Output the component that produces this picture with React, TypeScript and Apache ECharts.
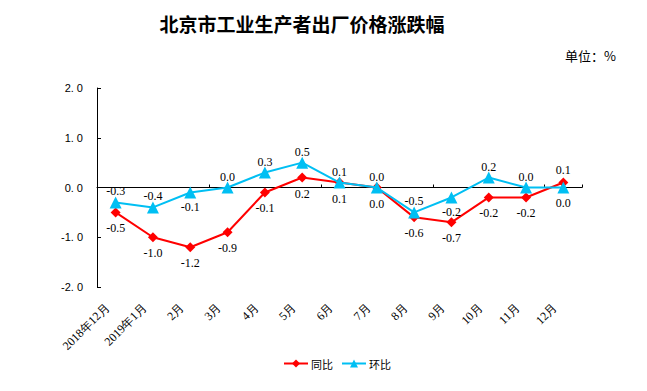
import React, { useEffect, useRef } from "react";
import * as echarts from "echarts";

const categories = [
  "2018年12月", "2019年1月", "2月", "3月", "4月", "5月", "6月",
  "7月", "8月", "9月", "10月", "11月", "12月",
];
const tongbi = [-0.5, -1.0, -1.2, -0.9, -0.1, 0.2, 0.1, 0.0, -0.6, -0.7, -0.2, -0.2, 0.1];
const huanbi = [-0.3, -0.4, -0.1, 0.0, 0.3, 0.5, 0.1, 0.0, -0.5, -0.2, 0.2, 0.0, 0.0];
const yTicks = [-2, -1, 0, 1, 2];

// indices whose labels sit on the opposite side
const tongbiAboveIdx = [12];
const huanbiBelowIdx = [2, 9, 12];

const RED = "#FF0000";
const BLUE = "#00BFF3";

export default function App() {
  const ref = useRef<HTMLDivElement>(null);
  useEffect(() => {
    if (!ref.current) return;
    const chart = echarts.init(ref.current, undefined, { renderer: "svg" });
    const labelFont = { fontFamily: "Liberation Serif", fontSize: 12, color: "#000" };
    const redData = tongbi.map((v, i) => {
      const above = tongbiAboveIdx.includes(i);
      return {
        value: v,
        label: { position: above ? "top" : "bottom", distance: above ? 2 : 5 },
      };
    });
    const blueData = huanbi.map((v, i) => {
      const below = huanbiBelowIdx.includes(i);
      return {
        value: v,
        label: { position: below ? "bottom" : "top", distance: below ? 3 : -1 },
      };
    });
    chart.setOption({
      animation: false,
      graphic: [
        {
          type: "text",
          x: 302,
          y: 23,
          style: {
            text: "北京市工业生产者出厂价格涨跌幅",
            fontFamily: "Noto Sans CJK SC",
            fontWeight: "bold",
            fontSize: 19,
            fill: "#000",
            textAlign: "center",
            textVerticalAlign: "middle",
          },
        },
        {
          type: "text",
          x: 565,
          y: 55,
          style: {
            text: "单位：%",
            fontFamily: "Noto Sans CJK SC",
            fontSize: 13,
            fill: "#000",
            textAlign: "left",
            textVerticalAlign: "middle",
          },
        },
      ],
      legend: {
        top: 358,
        left: 283,
        itemWidth: 24,
        itemHeight: 10,
        itemGap: 8,
        padding: 0,
        textStyle: { fontFamily: "Noto Sans CJK SC", fontSize: 11, color: "#000", padding: [0, 0, 0, -2] },
        data: ["同比", "环比"],
      },
      grid: { left: 97, right: 65, top: 88, bottom: 104 },
      xAxis: [
        {
          type: "category",
          data: categories,
          boundaryGap: true,
          axisLine: { onZero: true, lineStyle: { color: "#000", width: 1 } },
          axisTick: { show: true, inside: true, length: 3, lineStyle: { color: "#000" } },
          axisLabel: { show: false },
          splitLine: { show: false },
        },
        {
          type: "category",
          data: categories,
          position: "bottom",
          boundaryGap: true,
          axisLine: { show: false, onZero: false },
          axisTick: { show: false },
          axisLabel: {
            show: true,
            rotate: 45,
            interval: 0,
            margin: 10,
            padding: [0, 12, 0, 0],
            fontFamily: "Liberation Serif",
            fontSize: 12,
            color: "#000",
          },
        },
      ],
      yAxis: {
        type: "value",
        min: yTicks[0],
        max: yTicks[yTicks.length - 1],
        interval: 1,
        axisLine: { show: true, lineStyle: { color: "#000", width: 1 } },
        axisTick: { show: true, inside: true, length: 4, lineStyle: { color: "#000" } },
        splitLine: { show: false },
        axisLabel: {
          margin: 14,
          fontFamily: "Liberation Sans",
          fontSize: 11,
          color: "#000",
          formatter: (v: number) => v.toFixed(1).replace(".", ". "),
        },
      },
      series: [
        {
          name: "同比",
          type: "line",
          xAxisIndex: 0,
          data: redData,
          symbol: "diamond",
          symbolSize: 10,
          lineStyle: { color: RED, width: 2 },
          itemStyle: { color: RED },
          label: { show: true, ...labelFont, formatter: (p: any) => Number(p.value).toFixed(1) },
          z: 2,
        },
        {
          name: "环比",
          type: "line",
          xAxisIndex: 0,
          data: blueData,
          symbol: "triangle",
          symbolSize: 12,
          lineStyle: { color: BLUE, width: 2 },
          itemStyle: { color: BLUE },
          label: { show: true, ...labelFont, formatter: (p: any) => Number(p.value).toFixed(1) },
          z: 3,
        },
      ],
    });
    return () => chart.dispose();
  }, []);
  return (
    <div
      ref={ref}
      style={{ position: "fixed", left: 0, top: 0, width: 647, height: 391, background: "#fff" }}
    />
  );
}
